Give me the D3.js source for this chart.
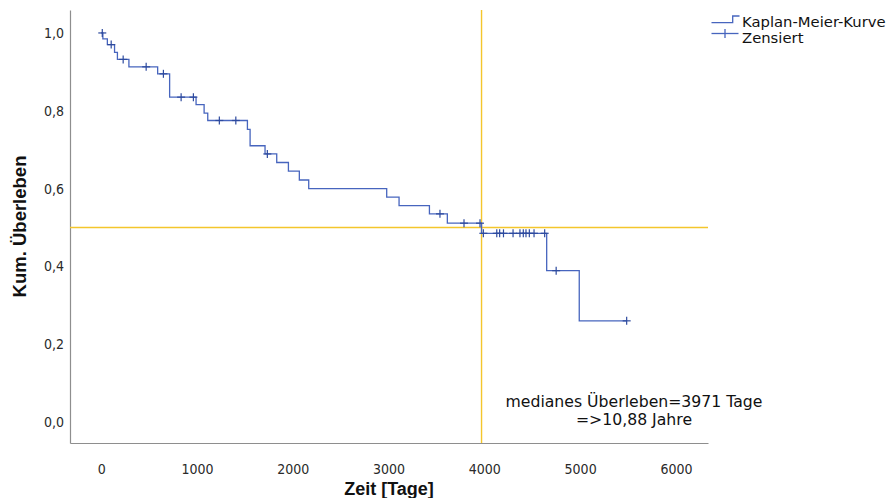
<!DOCTYPE html>
<html>
<head>
<meta charset="utf-8">
<script src="https://cdn.jsdelivr.net/npm/d3@7"></script>
<style>
  html, body { margin: 0; padding: 0; background: #fff; }
  svg { display: block; }
</style>
</head>
<body>
<svg id="chart" width="888" height="498"></svg>
<script>
// Kaplan-Meier estimate: event times (days) and survival after each event
const stepTimes = [0, 18, 65, 140, 170, 290, 590, 715, 991, 1075, 1113, 1527, 1555, 1711, 1833, 1955, 2069, 2167, 2981, 3110, 3427, 3614, 3971, 4651, 4991];
const stepSurv  = [1.0, 0.985, 0.970, 0.950, 0.932, 0.913, 0.895, 0.835, 0.816, 0.794, 0.775, 0.752, 0.710, 0.689, 0.667, 0.645, 0.622, 0.600, 0.578, 0.556, 0.535, 0.511, 0.485, 0.389, 0.260];
const lastFollowUp = 5486;

// Censored observations
const censorTimes = [12, 105, 230, 470, 650, 835, 963, 1234, 1406, 1735, 3537, 3788, 3955, 3990, 4130, 4160, 4200, 4300, 4372, 4407, 4435, 4470, 4519, 4630, 4750, 5486];
const censorSurv  = [1.0, 0.970, 0.932, 0.913, 0.895, 0.835, 0.835, 0.775, 0.775, 0.689, 0.535, 0.511, 0.511, 0.485, 0.485, 0.485, 0.485, 0.485, 0.485, 0.485, 0.485, 0.485, 0.485, 0.485, 0.389, 0.260];

// Median survival reference
const medianDays = 3971;
const medianLevel = 0.5;

const xTicks = [0, 1000, 2000, 3000, 4000, 5000, 6000];
const yTicks = [0, 0.2, 0.4, 0.6, 0.8, 1.0];

const legendLabels = ["Kaplan-Meier-Kurve", "Zensiert"];
const noteLines = ["medianes Überleben=3971 Tage", "=>10,88 Jahre"];
const xTitle = "Zeit [Tage]";
const yTitle = "Kum. Überleben";

const curveColor = "#4765be";
const markColor = "#2d4a9e";
const refColor = "#f4c62c";
const axisColor = "#8e8e8e";

const svg = d3.select("#chart");

const plotLeft = 70, plotRight = 708, plotTop = 10, plotBottom = 443;
const x = d3.scaleLinear().domain([-325, 6335]).range([plotLeft, plotRight]);
const y = d3.scaleLinear().domain([-0.054, 1.059]).range([plotBottom, plotTop]);

// Axes
const xAxis = d3.axisBottom(x)
  .tickValues(xTicks)
  .tickFormat(d3.format("d"))
  .tickSize(0)
  .tickPadding(21);
const yAxis = d3.axisLeft(y)
  .tickValues(yTicks)
  .tickFormat(d => d.toFixed(1).replace(".", ","))
  .tickSize(0)
  .tickPadding(6);

const tickFont = "'Liberation Sans Narrow', 'DejaVu Sans Condensed', 'Liberation Sans', sans-serif";

const gx = svg.append("g").attr("transform", `translate(0,${plotBottom})`).call(xAxis);
const gy = svg.append("g").attr("transform", `translate(${plotLeft},0)`).call(yAxis);
[gx, gy].forEach(g => {
  g.select(".domain").attr("stroke", axisColor).attr("stroke-width", 1.2);
  g.selectAll("text").attr("fill", "#2a2a2a").style("font-family", tickFont).style("font-size", "14px");
});

// Axis titles
svg.append("text")
  .attr("x", 389).attr("y", 495)
  .attr("text-anchor", "middle")
  .style("font-family", "'Liberation Sans', Arial, sans-serif")
  .style("font-weight", "bold").style("font-size", "18px")
  .attr("fill", "#111")
  .text(xTitle);

svg.append("text")
  .attr("transform", `translate(26,${(plotTop + plotBottom) / 2}) rotate(-90)`)
  .attr("text-anchor", "middle")
  .style("font-family", "'Liberation Sans', Arial, sans-serif")
  .style("font-weight", "bold").style("font-size", "18.5px")
  .attr("fill", "#111")
  .text(yTitle);

// Median reference lines
svg.append("line")
  .attr("x1", plotLeft).attr("x2", plotRight)
  .attr("y1", y(medianLevel)).attr("y2", y(medianLevel))
  .attr("stroke", refColor).attr("stroke-width", 1.4);
svg.append("line")
  .attr("x1", x(medianDays)).attr("x2", x(medianDays))
  .attr("y1", plotTop).attr("y2", plotBottom)
  .attr("stroke", refColor).attr("stroke-width", 1.4);

// Survival step curve
const curveData = stepTimes.map((t, i) => [t, stepSurv[i]]);
curveData.push([lastFollowUp, stepSurv[stepSurv.length - 1]]);
const line = d3.line()
  .x(d => x(d[0]))
  .y(d => y(d[1]))
  .curve(d3.curveStepAfter);
svg.append("path")
  .datum(curveData)
  .attr("fill", "none")
  .attr("stroke", curveColor)
  .attr("stroke-width", 1.3)
  .attr("d", line);

// Censor marks
const half = 4;
const marks = svg.append("g").attr("stroke", markColor).attr("stroke-width", 1.2);
censorTimes.forEach((t, i) => {
  const cx = x(t), cy = y(censorSurv[i]);
  marks.append("line").attr("x1", cx - half).attr("x2", cx + half).attr("y1", cy).attr("y2", cy);
  marks.append("line").attr("x1", cx).attr("x2", cx).attr("y1", cy - half).attr("y2", cy + half);
});

// Annotation
const note = svg.append("text")
  .attr("text-anchor", "middle")
  .style("font-family", "'DejaVu Sans', Verdana, sans-serif")
  .style("font-size", "15.7px")
  .attr("fill", "#111");
note.append("tspan").attr("x", 634).attr("y", 407).text(noteLines[0]);
note.append("tspan").attr("x", 634).attr("y", 425).text(noteLines[1]);

// Legend
const lg = svg.append("g");
lg.append("path")
  .attr("d", "M711.5,22.7H732.7V16H739.5")
  .attr("fill", "none").attr("stroke", curveColor).attr("stroke-width", 1.3);
lg.append("line").attr("x1", 711.5).attr("x2", 738.5).attr("y1", 33.5).attr("y2", 33.5)
  .attr("stroke", curveColor).attr("stroke-width", 1.3);
lg.append("line").attr("x1", 725).attr("x2", 725).attr("y1", 29).attr("y2", 38)
  .attr("stroke", curveColor).attr("stroke-width", 1.3);
lg.selectAll("text.lab")
  .data(legendLabels)
  .join("text")
  .attr("class", "lab")
  .attr("x", 742)
  .attr("y", (d, i) => 26.5 + i * 16)
  .style("font-family", "'DejaVu Sans', Verdana, sans-serif")
  .style("font-size", "14.8px")
  .attr("fill", "#111")
  .text(d => d);
</script>
</body>
</html>
